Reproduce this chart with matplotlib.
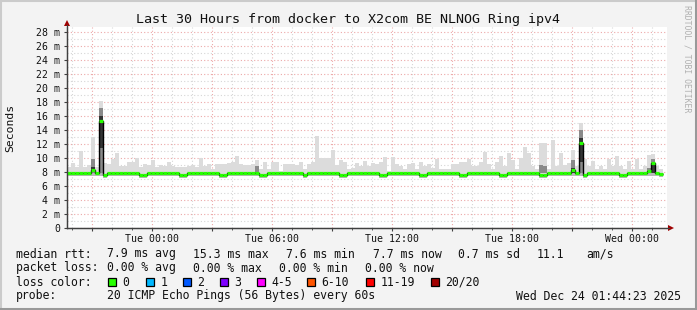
import numpy as np
import matplotlib.pyplot as plt
from matplotlib.patches import Rectangle, Polygon
from matplotlib.lines import Line2D

W, H = 697, 310
MONO = 'DejaVu Sans Mono'

# time axis in hours relative to Tue 00:00, graph ends Wed 01:44:23
t_end = 25 + 44 / 60 + 23 / 3600
t_start = t_end - 30
step_h = 0.2  # 12 min consolidation steps

# RTT in ms, one value per step
rtt_max = [
    8.7, 9.3, 8.7, 11.0, 8.7, 9.0, 13.0, 8.7, 18.1, 9.3,
    9.2, 9.9, 10.7, 8.8, 8.9, 9.5, 9.5, 10.0, 8.7, 9.1,
    9.0, 9.7, 8.7, 9.0, 8.8, 9.5, 8.8, 8.7, 8.7, 8.7,
    8.8, 9.0, 8.7, 10.0, 8.9, 9.1, 8.5, 9.1, 9.1, 9.2,
    9.3, 9.5, 10.3, 9.1, 9.0, 9.0, 9.2, 9.7, 8.4, 9.4,
    8.5, 9.4, 9.4, 8.2, 9.1, 9.1, 9.1, 9.0, 9.5, 8.5,
    9.1, 9.5, 13.1, 10.0, 10.0, 10.0, 11.1, 9.0, 9.7, 9.4,
    8.5, 8.6, 9.3, 8.8, 9.6, 8.8, 9.3, 9.2, 9.4, 10.2,
    8.2, 10.2, 9.1, 8.8, 8.5, 9.1, 9.3, 8.5, 9.4, 8.9,
    9.1, 8.6, 9.8, 8.5, 8.5, 8.5, 9.1, 9.2, 9.4, 9.4,
    9.8, 8.9, 8.9, 9.4, 10.9, 9.1, 8.4, 9.4, 10.3, 8.8,
    10.7, 9.7, 8.5, 10.0, 11.6, 10.7, 8.8, 8.5, 12.2, 12.2,
    8.5, 12.6, 8.8, 10.7, 9.0, 9.3, 11.1, 8.8, 15.0, 9.9,
    8.8, 9.6, 8.5, 8.8, 8.5, 9.9, 8.8, 10.3, 8.8, 8.5,
    9.6, 8.5, 9.9, 8.5, 8.8, 10.4, 10.6, 8.8, 8.4,
]
rtt_median = [
    7.9, 7.9, 7.9, 7.9, 7.9, 7.9, 8.3, 7.9, 15.3, 7.6,
    7.9, 7.9, 7.9, 7.9, 7.9, 7.9, 7.9, 7.9, 7.6, 7.6,
    7.9, 7.9, 7.9, 7.9, 7.9, 7.9, 7.9, 7.9, 7.6, 7.6,
    7.9, 7.9, 7.9, 7.9, 7.9, 7.9, 7.9, 7.9, 7.6, 7.6,
    7.9, 7.9, 7.9, 7.9, 7.9, 7.9, 7.9, 7.9, 7.6, 7.6,
    7.9, 7.9, 7.9, 7.9, 7.9, 7.9, 7.9, 7.9, 7.9, 7.6,
    7.9, 7.9, 7.9, 7.9, 7.9, 7.9, 7.9, 7.9, 7.6, 7.6,
    7.9, 7.9, 7.9, 7.9, 7.9, 7.9, 7.9, 7.9, 7.6, 7.6,
    7.9, 7.9, 7.9, 7.9, 7.9, 7.9, 7.9, 7.9, 7.6, 7.6,
    7.9, 7.9, 7.9, 7.9, 7.9, 7.9, 7.9, 7.9, 7.6, 7.6,
    7.9, 7.9, 7.9, 7.9, 7.9, 7.9, 7.9, 7.9, 7.6, 7.6,
    7.9, 7.9, 7.9, 7.9, 7.9, 7.9, 7.9, 7.9, 7.6, 7.6,
    7.9, 7.9, 7.9, 7.9, 7.9, 7.9, 8.3, 7.9, 12.2, 7.6,
    7.9, 7.9, 7.9, 7.9, 7.9, 7.9, 7.9, 7.9, 7.6, 7.6,
    7.9, 7.9, 7.9, 7.9, 7.9, 8.1, 9.3, 7.9, 7.7,
]
rtt_low = [
    7.4, 7.4, 7.4, 7.4, 7.4, 7.4, 7.4, 7.4, 7.5, 7.2,
    7.4, 7.4, 7.4, 7.4, 7.4, 7.4, 7.4, 7.4, 7.2, 7.2,
    7.4, 7.4, 7.4, 7.4, 7.4, 7.4, 7.4, 7.4, 7.2, 7.2,
    7.4, 7.4, 7.4, 7.4, 7.4, 7.4, 7.4, 7.4, 7.2, 7.2,
    7.4, 7.4, 7.4, 7.4, 7.4, 7.4, 7.4, 7.4, 7.2, 7.2,
    7.4, 7.4, 7.4, 7.4, 7.4, 7.4, 7.4, 7.4, 7.4, 7.2,
    7.4, 7.4, 7.4, 7.4, 7.4, 7.4, 7.4, 7.4, 7.2, 7.2,
    7.4, 7.4, 7.4, 7.4, 7.4, 7.4, 7.4, 7.4, 7.2, 7.2,
    7.4, 7.4, 7.4, 7.4, 7.4, 7.4, 7.4, 7.4, 7.2, 7.2,
    7.4, 7.4, 7.4, 7.4, 7.4, 7.4, 7.4, 7.4, 7.2, 7.2,
    7.4, 7.4, 7.4, 7.4, 7.4, 7.4, 7.4, 7.4, 7.2, 7.2,
    7.4, 7.4, 7.4, 7.4, 7.4, 7.4, 7.4, 7.4, 7.2, 7.2,
    7.4, 7.4, 7.4, 7.4, 7.4, 7.4, 7.4, 7.4, 7.5, 7.2,
    7.4, 7.4, 7.4, 7.4, 7.4, 7.4, 7.4, 7.4, 7.2, 7.2,
    7.4, 7.4, 7.4, 7.4, 7.4, 7.4, 7.5, 7.4, 7.3,
]

# denser smoke (steps with spread pings)
mid_step = [6, 8, 47, 118, 119, 126, 128, 145, 146]
mid_lo = [7.9, 7.9, 7.9, 7.9, 7.9, 7.9, 7.9, 7.9, 7.9]
mid_hi = [9.8, 17.2, 8.8, 9.0, 8.8, 9.7, 14.0, 8.6, 9.8]
dark_step = [6, 8, 126, 128, 146]
dark_lo = [8.0, 11.5, 7.9, 9.5, 7.9]
dark_hi = [8.7, 16.0, 8.6, 12.8, 9.3]

loss_labels = ['0', '1', '2', '3', '4-5', '6-10', '11-19', '20/20']
loss_colors = ['#26ff00', '#00b8ff', '#0059ff', '#7e00ff',
               '#ff00ff', '#ff5500', '#ff0000', '#a10000']
box_px = [108, 146, 183, 220, 257, 307, 366, 431]  # legend layout


def fx(px):
    return px / W


def fy(py):
    return 1 - py / H


fig = plt.figure(figsize=(W / 100, H / 100), dpi=100, facecolor='#f3f3f3')

# rrdtool style frame
fig.add_artist(Rectangle((0, 0), 1, 1, transform=fig.transFigure,
                         fill=False, lw=0))
fig.add_artist(Line2D([fx(1), fx(1)], [fy(1), fy(309)], color='#cbcbcb', lw=1.5))
fig.add_artist(Line2D([fx(1), fx(696)], [fy(1), fy(1)], color='#cbcbcb', lw=1.5))
fig.add_artist(Line2D([fx(695.5), fx(695.5)], [fy(0), fy(310)], color='#999999', lw=2.2))
fig.add_artist(Line2D([fx(0), fx(697)], [fy(308.5), fy(308.5)], color='#999999', lw=2.2))

ax = fig.add_axes([fx(67), fy(228), 600 / W, 201 / H])
ax.set_facecolor('white')
ax.set_xlim(t_start, t_end)
ax.set_ylim(0, 201 / 7)

n = len(rtt_max)
edges = t_start + np.arange(n + 1) * step_h

# smoke
ax.stairs(rtt_max, edges, baseline=rtt_low, fill=True, color='#dcdcdc', lw=0, zorder=2)
ax.stairs(rtt_median, edges, baseline=rtt_low, fill=True, color='#b8b8b8', lw=0, zorder=2.1)
mid_x = edges[np.array(mid_step)]
ax.bar(mid_x, np.array(mid_hi) - np.array(mid_lo), bottom=mid_lo, width=step_h,
       align='edge', color='#8a8a8a', lw=0, zorder=2.2)
dark_x = edges[np.array(dark_step)]
ax.bar(dark_x, np.array(dark_hi) - np.array(dark_lo), bottom=dark_lo, width=step_h,
       align='edge', color='#353535', lw=0, zorder=2.3)

# median: black step line, green per step
ax.stairs(rtt_median, edges, baseline=None, color='black', lw=1.0, zorder=3)
ax.hlines(rtt_median, edges[:-1], edges[1:], color=loss_colors[0], lw=2.3, zorder=4)

# grid
ax.set_yticks(np.arange(0, 29, 2))
ax.set_yticks(np.arange(0, 29, 1), minor=True)
ax.set_yticklabels(['0'] + [f'{v} m' for v in range(2, 29, 2)])
major_x = np.arange(-3, 26, 3)
ax.set_xticks(major_x)
ax.set_xticklabels(['' if h % 6 else ('Tue' if h < 24 else 'Wed') + f' {h % 24:02d}:00'
                    for h in major_x])
ax.set_xticks(np.arange(-4, 26, 1), minor=True)
ax.grid(which='minor', color='#d6d6d6', ls=(0, (1, 2)), lw=0.8, zorder=1)
ax.grid(which='major', color='#eca8a8', ls=(0, (1, 2)), lw=0.8, zorder=1)
ax.set_axisbelow(True)

for s in ['top', 'right']:
    ax.spines[s].set_visible(False)
for s in ['left', 'bottom']:
    ax.spines[s].set_color('#404040')
    ax.spines[s].set_linewidth(0.9)

ax.tick_params(axis='both', which='both', colors='#404040', labelcolor='#111111',
               labelsize=7.1, direction='out')
ax.tick_params(axis='x', which='major', length=2.5, pad=1.5)
ax.tick_params(axis='x', which='minor', length=1.5)
ax.tick_params(axis='y', which='major', length=2.0, pad=3.0)
ax.tick_params(axis='y', which='minor', length=0)
for lab in ax.get_xticklabels() + ax.get_yticklabels():
    lab.set_family(MONO)

# axis arrows
fig.add_artist(Line2D([fx(67), fx(67)], [fy(228), fy(25)], color='#404040', lw=0.9))
fig.add_artist(Line2D([fx(67), fx(669)], [fy(228), fy(228)], color='#404040', lw=0.9))
fig.add_artist(Polygon([[fx(64), fy(26)], [fx(70), fy(26)], [fx(67), fy(20)]],
                       closed=True, transform=fig.transFigure, color='#a00000', lw=0))
fig.add_artist(Polygon([[fx(668), fy(225)], [fx(668), fy(231)], [fx(674), fy(228)]],
                       closed=True, transform=fig.transFigure, color='#a00000', lw=0))

# titles
fig.text(fx(348), fy(19.5), 'Last 30 Hours from docker to X2com BE NLNOG Ring ipv4',
         family=MONO, fontsize=9.6, ha='center', va='center', color='#111111')
fig.text(fx(10), fy(128), 'Seconds', family=MONO, fontsize=8.2, rotation=90,
         ha='center', va='center', color='#111111')
fig.text(fx(687), fy(5), 'RRDTOOL / TOBI OETIKER', family=MONO, fontsize=5.9,
         rotation=270, ha='center', va='top', color='#b0b0b0')

# legend rows
LS = 8.3


def row(py, chunks):
    for px, s in chunks:
        fig.text(fx(px), fy(py), s, family=MONO, fontsize=LS, ha='left',
                 va='center', color='#111111')


row(254, [(16, 'median rtt:'), (107, '7.9 ms avg'), (193, '15.3 ms max'),
          (286, '7.6 ms min'), (373, '7.7 ms now'), (458, '0.7 ms sd'),
          (537, '11.1'), (586, 'am/s')])
row(268, [(16, 'packet loss:'), (107, '0.00 % avg'), (193, '0.00 % max'),
          (279, '0.00 % min'), (365, '0.00 % now')])
row(282, [(16, 'loss color:')])
for bx, lab, col in zip(box_px, loss_labels, loss_colors):
    fig.add_artist(Rectangle((fx(bx), fy(286)), 8 / W, 8 / H, transform=fig.transFigure,
                             facecolor=col, edgecolor='black', lw=0.9))
    fig.text(fx(bx + 14.5), fy(282), lab, family=MONO, fontsize=LS, ha='left',
             va='center', color='#111111')
row(296, [(16, 'probe:'), (107, '20 ICMP Echo Pings (56 Bytes) every 60s')])
fig.text(fx(681), fy(296), 'Wed Dec 24 01:44:23 2025', family=MONO, fontsize=LS,
         ha='right', va='center', color='#111111')

fig.savefig('out.png', dpi=100, facecolor=fig.get_facecolor())
